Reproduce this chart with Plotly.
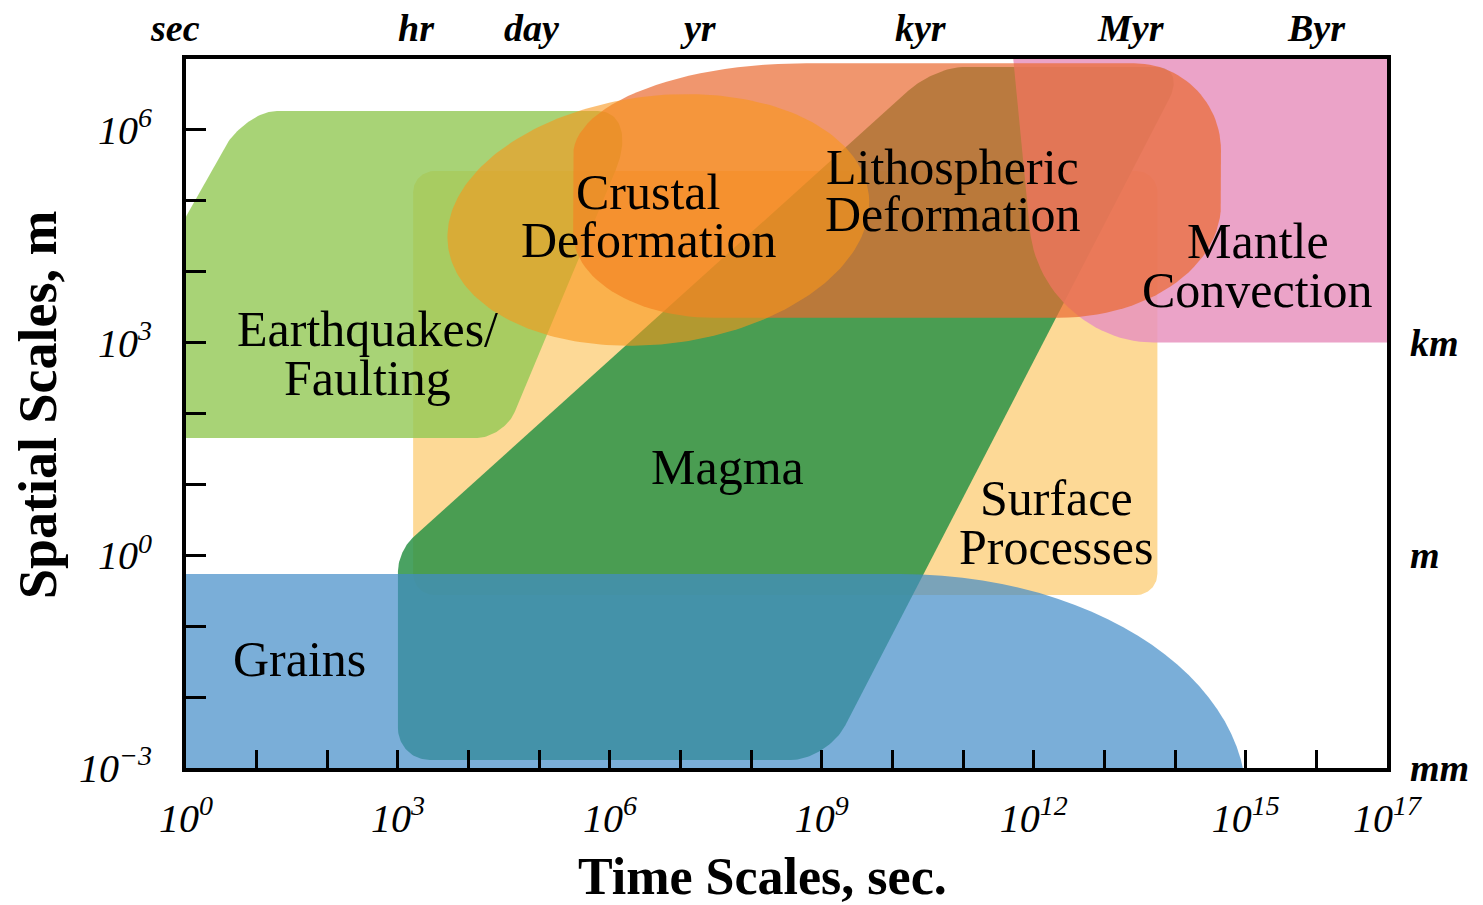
import numpy as np
import plotly.graph_objects as go

# ---------------- data (log10 units: x = log10 seconds, y = log10 metres) ----------------
# region outlines: corner vertices + corner rounding (cut along incoming / outgoing edge, decades)
surface_x = [3.215, 3.215, 13.75, 13.75]
surface_y = [-0.56, 5.42, 5.42, -0.56]
surface_cut_in = [0.3, 0.3, 0.3, 0.3]
surface_cut_out = [0.3, 0.3, 0.3, 0.3]

quake_x = [-1.77, 0.836, 6.43, 4.50]
quake_y = [1.654, 6.266, 6.266, 1.654]
quake_cut_in = [0.0, 0.6, 0.6, 0.4]
quake_cut_out = [0.0, 0.45, 0.9, 0.4]

magma_x = [3.0, 3.0, 10.595, 14.15, 9.08]
magma_y = [-2.887, 0.06, 6.887, 6.887, -2.887]
magma_cut_in = [0.45, 0.28, 0.5, 0.4, 0.55]
magma_cut_out = [0.45, 0.28, 0.4, 0.5, 0.52]

grains_x = [-1.0, -1.0, 15.01, 15.01]
grains_y = [-5.0, -0.264, -0.264, -5.0]
grains_cut_in = [0.0, 0.0, 4.9, 0.0]
grains_cut_out = [0.0, 0.0, 3.19, 0.0]

mantle_x = [12.10, 11.67, 17.9, 17.9]
mantle_y = [3.0, 7.41, 7.41, 3.0]
mantle_cut_in = [1.6, 0.0, 0.0, 0.0]
mantle_cut_out = [1.6, 0.0, 0.0, 0.0]

litho_x = [5.48, 5.48, 14.65, 14.65]
litho_y = [3.35, 6.94, 6.94, 3.35]
litho_cut_in = [2.0, 1.3, 1.23, 1.6]
litho_cut_out = [1.2, 3.3, 1.23, 2.3]

crustal_center = [6.686, 4.73]
crustal_axes = [3.0, 1.75]
crustal_tilt_deg = 7.0

# region labels (one entry per text line)
label_text = ["Crustal", "Deformation", "Lithospheric", "Deformation", "Mantle", "Convection",
              "Earthquakes/", "Faulting", "Magma", "Surface", "Processes", "Grains"]
label_x = [6.544, 6.544, 10.85, 10.85, 15.17, 15.17, 2.564, 2.564, 7.663, 12.32, 12.32, 1.60]
label_y = [5.124, 4.447, 5.477, 4.814, 4.433, 3.742, 3.192, 2.501, 1.245, 0.808, 0.117, -1.463]

# time-unit labels along the top (log10 seconds, as placed in the figure)
time_units = ["sec", "hr", "day", "yr", "kyr", "Myr", "Byr"]
time_unit_pos = [-0.156, 3.258, 4.887, 7.252, 10.397, 13.37, 16.006]

# length-unit labels on the right (log10 metres)
length_units = ["km", "m", "mm"]
length_unit_pos = [3, 0, -3]

x_decades = list(range(0, 18))
x_labelled = [0, 3, 6, 9, 12, 15, 17]
y_decades = list(range(-3, 7))
y_labelled = [-3, 0, 3, 6]

FONT = "Liberation Serif"
X_RANGE = [0, 17]
Y_RANGE = [-3, 7]


def rounded_outline(xs, ys, cut_in, cut_out, n=28):
    xs = np.asarray(xs, float)
    ys = np.asarray(ys, float)
    m = len(xs)
    out = []
    k = 0.5523
    t = np.linspace(0, 1, n)[:, None]
    for i in range(m):
        V = np.array([xs[i], ys[i]])
        P = np.array([xs[i - 1], ys[i - 1]])
        N = np.array([xs[(i + 1) % m], ys[(i + 1) % m]])
        if cut_in[i] == 0 and cut_out[i] == 0:
            out.append(V)
            continue
        u1 = (V - P) / np.linalg.norm(V - P)
        u2 = (N - V) / np.linalg.norm(N - V)
        A = V - cut_in[i] * u1
        B = V + cut_out[i] * u2
        C1 = A + k * (V - A)
        C2 = B + k * (V - B)
        curve = ((1 - t) ** 3) * A + 3 * ((1 - t) ** 2) * t * C1 + 3 * (1 - t) * t ** 2 * C2 + t ** 3 * B
        out.extend(list(curve))
    out.append(out[0])
    arr = np.array(out)
    return arr[:, 0], arr[:, 1]


def ellipse_outline(center, axes, tilt_deg, n=240):
    th = np.deg2rad(tilt_deg)
    phi = np.linspace(0, 2 * np.pi, n)
    ex = axes[0] * np.cos(phi)
    ey = axes[1] * np.sin(phi)
    x = center[0] + ex * np.cos(th) - ey * np.sin(th)
    y = center[1] + ex * np.sin(th) + ey * np.cos(th)
    return x, y


regions = [
    ("Surface Processes", rounded_outline(surface_x, surface_y, surface_cut_in, surface_cut_out), "rgb(253,217,150)"),
    ("Earthquakes/Faulting", rounded_outline(quake_x, quake_y, quake_cut_in, quake_cut_out), "rgba(146,200,84,0.8)"),
    ("Magma", rounded_outline(magma_x, magma_y, magma_cut_in, magma_cut_out), "rgba(42,146,71,0.85)"),
    ("Grains", rounded_outline(grains_x, grains_y, grains_cut_in, grains_cut_out), "rgba(65,139,199,0.7)"),
    ("Mantle Convection", rounded_outline(mantle_x, mantle_y, mantle_cut_in, mantle_cut_out), "rgba(232,147,190,0.85)"),
    ("Lithospheric Deformation", rounded_outline(litho_x, litho_y, litho_cut_in, litho_cut_out), "rgba(234,105,48,0.7)"),
    ("Crustal Deformation", ellipse_outline(crustal_center, crustal_axes, crustal_tilt_deg), "rgba(248,150,27,0.6)"),
]

fig = go.Figure()
for name, (lx, ly), col in regions:
    fig.add_trace(go.Scatter(
        x=10.0 ** lx, y=10.0 ** ly, mode="lines", fill="toself",
        fillcolor=col, line=dict(width=0, color=col), name=name,
        hoverinfo="name", showlegend=False,
    ))

annotations = []
for txt, x, y in zip(label_text, label_x, label_y):
    annotations.append(dict(x=x, y=y, xref="x", yref="y", text=txt, showarrow=False,
                            font=dict(family=FONT, size=50, color="black"),
                            xanchor="center", yanchor="middle"))
for txt, x in zip(time_units, time_unit_pos):
    # position expressed as a fraction of the x axis so that labels left of 10^0 still show
    xp = (x - X_RANGE[0]) / (X_RANGE[1] - X_RANGE[0])
    annotations.append(dict(x=xp, y=1.044, xref="paper", yref="paper", text="<b><i>%s</i></b>" % txt,
                            showarrow=False, font=dict(family=FONT, size=38, color="black"),
                            xanchor="center", yanchor="middle"))
for txt, y in zip(length_units, length_unit_pos):
    annotations.append(dict(x=1.0175, y=y, xref="paper", yref="y", text="<b><i>%s</i></b>" % txt,
                            showarrow=False, font=dict(family=FONT, size=38, color="black"),
                            xanchor="left", yanchor="middle"))
annotations.append(dict(x=0.4804, y=-0.153, xref="paper", yref="paper", text="<b>Time Scales, sec.</b>",
                        showarrow=False, font=dict(family=FONT, size=52, color="black"),
                        xanchor="center", yanchor="middle"))
annotations.append(dict(x=-0.1232, y=0.512, xref="paper", yref="paper", text="<b>Spatial Scales, m</b>",
                        showarrow=False, textangle=-90, font=dict(family=FONT, size=54, color="black"),
                        xanchor="center", yanchor="middle"))


def power_label(k):
    s = str(k).replace("-", "\u2212")
    return "<i>10<sup>%s</sup></i>" % s


# page body adds an 8 px margin; figure size/margins compensate so the plot box sits at 186..1387 x 59..768
fig.update_layout(
    width=1475, height=897,
    margin=dict(l=178, r=96, t=51, b=137),
    paper_bgcolor="white", plot_bgcolor="white",
    showlegend=False,
    annotations=annotations,
    xaxis=dict(
        type="log", range=X_RANGE,
        tickvals=[10.0 ** k for k in x_labelled],
        ticktext=[power_label(k) for k in x_labelled],
        ticks="inside", ticklen=18, tickwidth=2.5, tickcolor="black",
        minor=dict(tickvals=[10.0 ** k for k in x_decades], ticks="inside", ticklen=18,
                   tickwidth=2.5, tickcolor="black", showgrid=False),
        showline=True, linewidth=4, linecolor="black", mirror=True,
        showgrid=False, zeroline=False,
        tickfont=dict(family=FONT, size=40, color="black"),
        ticklabelstandoff=12,
    ),
    yaxis=dict(
        type="log", range=Y_RANGE,
        tickvals=[10.0 ** k for k in y_labelled],
        ticktext=[power_label(k) for k in y_labelled],
        ticks="inside", ticklen=20, tickwidth=2.5, tickcolor="black",
        minor=dict(tickvals=[10.0 ** k for k in y_decades], ticks="inside", ticklen=20,
                   tickwidth=2.5, tickcolor="black", showgrid=False),
        showline=True, linewidth=4, linecolor="black", mirror=True,
        showgrid=False, zeroline=False,
        tickfont=dict(family=FONT, size=40, color="black"),
        ticklabelstandoff=22,
    ),
)

fig.write_html("out.html")
